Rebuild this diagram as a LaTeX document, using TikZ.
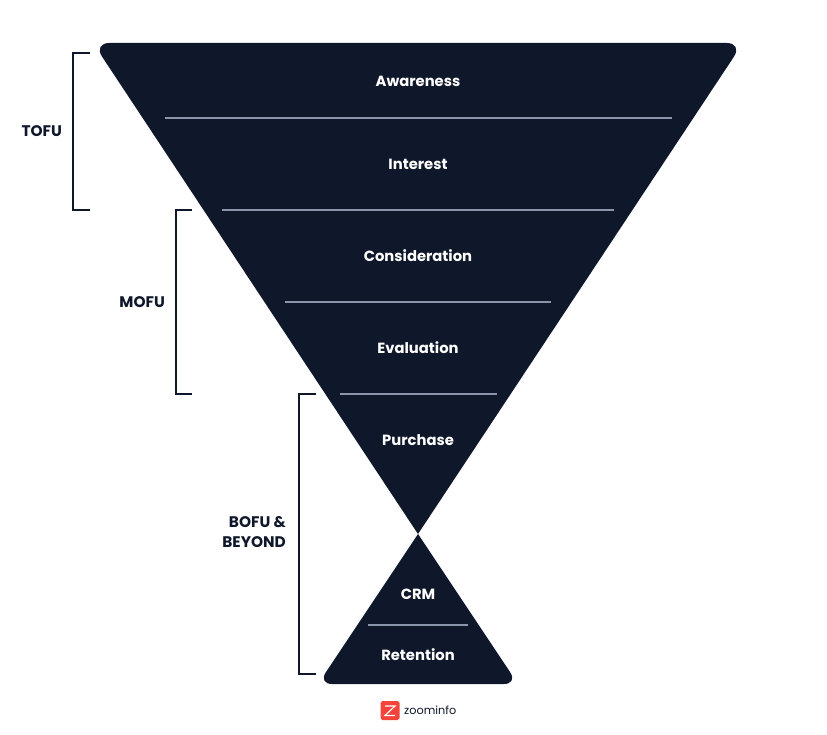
\documentclass[tikz,border=0pt]{standalone}
\usepackage{fontspec}
\setmainfont{Poppins}
\usepackage{xcolor}
\definecolor{funnelnavy}{HTML}{0F172A}
\definecolor{dividergray}{HTML}{8B95AB}
\definecolor{logored}{HTML}{F4433C}

\tikzset{
  funnel/.style={fill=funnelnavy},
  divider/.style={color=dividergray, line width=1.7pt},
  bracket/.style={color=funnelnavy, line width=1.6pt},
  stage/.style={color=white, font=\bfseries\fontsize{12.6}{14}\selectfont},
  tier/.style={color=funnelnavy, font=\bfseries\fontsize{13.1}{17}\selectfont, align=right}
}

\begin{document}
\begin{tikzpicture}[x=0.03cm, y=-0.03cm]
      \useasboundingbox (0, 0) rectangle (827, 735);

      \coordinate (neck) at (418, 534);

      \fill[funnel] (neck) [rounded corners=14pt] -- (93, 43) -- (743, 43) [sharp corners] -- cycle;
      \fill[funnel] (neck) [rounded corners=12pt] -- (518, 684) -- (318, 684) [sharp corners] -- cycle;

      % dividers
      \coordinate (d1l) at (165, 118);
      \coordinate (d1r) at (672, 118);
      \coordinate (d2l) at (222, 210);
      \coordinate (d2r) at (614, 210);
      \coordinate (d3l) at (285, 302);
      \coordinate (d3r) at (551, 302);
      \coordinate (d4l) at (340, 394);
      \coordinate (d4r) at (497, 394);
      \coordinate (d5l) at (368, 625);
      \coordinate (d5r) at (468, 625);
      \draw[divider] (d1l) -- (d1r);
      \draw[divider] (d2l) -- (d2r);
      \draw[divider] (d3l) -- (d3r);
      \draw[divider] (d4l) -- (d4r);
      \draw[divider] (d5l) -- (d5r);

      \node[stage] (awareness) at (418, 81.5) {Awareness};
      \node[stage] (interest) at (418, 164.5) {Interest};
      \node[stage] (consideration) at (418, 256) {Consideration};
      \node[stage] (evaluation) at (418, 348) {Evaluation};
      \node[stage] (purchase) at (418, 440.5) {Purchase};
      \node[stage] (crm) at (418, 594.5) {CRM};
      \node[stage] (retention) at (418, 655) {Retention};

      % brackets
      \coordinate (t1) at (90, 53);
      \coordinate (t2) at (73, 53);
      \coordinate (t3) at (73, 210);
      \coordinate (t4) at (90, 210);
      \coordinate (m1) at (192, 210);
      \coordinate (m2) at (176, 210);
      \coordinate (m3) at (176, 394);
      \coordinate (m4) at (192, 394);
      \coordinate (b1) at (316, 394);
      \coordinate (b2) at (299, 394);
      \coordinate (b3) at (299, 674);
      \coordinate (b4) at (316, 674);
      \draw[bracket] (t1) -- (t2) -- (t3) -- (t4);
      \draw[bracket] (m1) -- (m2) -- (m3) -- (m4);
      \draw[bracket] (b1) -- (b2) -- (b3) -- (b4);

      \node[tier, anchor=east] (tofu) at (66, 131.5) {TOFU};
      \node[tier, anchor=east] (mofu) at (169, 302.5) {MOFU};
      \node[tier, anchor=east] (bofu) at (290, 532) {BOFU \&\\BEYOND};

      % logo
      \fill[logored, rounded corners=1.5pt] (380.5, 701) rectangle (399.5, 720);
      \draw[color=white, line width=1pt] (385, 706) -- (395, 706) -- (385, 715.5) -- (395, 715.5);
      \node[color=funnelnavy, anchor=west, inner sep=0pt, font=\fontsize{9.6}{12}\selectfont] (zoominfo) at (404, 710.5) {zoominfo};

      \end{tikzpicture}
\end{document}
